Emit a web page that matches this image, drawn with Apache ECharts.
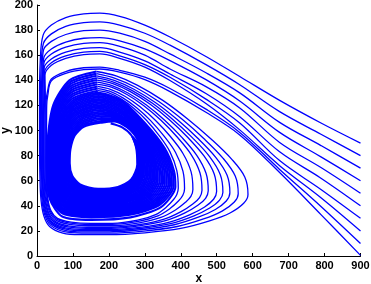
<!DOCTYPE html>
<html><head><meta charset="utf-8">
<script src="https://cdn.jsdelivr.net/npm/echarts@6/dist/echarts.min.js"></script>
<style>html,body{margin:0;padding:0;background:#fff}#c{width:371px;height:284px}</style>
</head><body><div id="c"></div>
<script>
const xTicks = [0,100,200,300,400,500,600,700,800,900];
const yTicks = [0,20,40,60,80,100,120,140,160,180,200];
const startY = [90,80,70,60,50,40,30,20,10,0];

const path90 = [[900,90],[790,106],[675,124],[564,143],[470,159],[370,174.5],[300,184],[230,191],[175,193.5],[130,193],[80,190],[40,184],[17,176],
[9,155],[7,125],[7,95],[8,65],[11,45],[19,32],[35,23.5],[72,18.2],[119,17],[200,17],[300,18.5],[400,22],[480,28],[537,34.3],[575,42],[587,49],[578,63],[542,77],[485,93],[420,109],[350,124],[280,136],[220,143.5],
[165,147],[90,140],[45,120],[29,90],[27.5,68],[36,45],[70,31.5],[150,28.8],[260,30.8],[345,39],[385,55],[381,68],[355,86],[300,106],[235,124],
[170,130],[100,124],[62,110],[48,90],[46,70],[54,52],[85,42],[160,38],[250,40],[310,47],[336,60],[333,73],[315,87],[275,102],[225,113.5],
[175,117.5],[115,113],[84,103],[72,88],[70,73],[77,58],[102,50],[165,46],[235,48],[280,54],[297,65.5],[294,79],[281,91]];

const path80 = [[900,80],[790,97],[675,115],[564,136.5],[470,152.5],[370,168],[300,177.5],[230,184],[175,186.5],[130,186],[80,183],[40,177],[18,169.5],
[11.5,150.1],[9.7,121.5],[9.7,92.9],[10.6,64.6],[13.7,45.1],[21.8,32.6],[38.1,24.4],[75.2,19.4],[123.3,18.3],[201.4,18.3],[297.2,19.9],[390.2,23.5],[463.2,29.5],[515,35.8],[549,43],[559.8,49.7],[551.5,63.7],[517.9,77.8],[464.7,93.4],[403.9,108.9],[338.8,123.1],[273.7,134.5],[217.2,141.6],
[165.5,145.3],[91,138.4],[46.7,119],[30,90],[28,68.2],[36.9,45.7],[71.5,33.9],[151,30.8],[259,32.8],[341.5,40.7],[380.1,55.5],[376.2,68.5],[351,86.1],[297.5,105.6],[234,123],
[170.5,128.8],[101.5,122.9],[64.2,109.3],[50.4,89.8],[48.4,70.3],[56.3,52.6],[86.7,42.8],[160.5,38.8],[248.5,40.8],[307,47.7],[332.1,60.6],[329.1,73.6],[311.6,87.4],[273,101.9],[224,112.8],
[175.6,116.3],[116.7,111.9],[86.3,102.2],[74.3,87.7],[72.3,73.1],[79.3,58.7],[104,50.8],[165.6,46.8],[233.9,48.8],[278,54.8],[295,66.3],[292,79.8],[279,91.6]];

const path70 = [[900,70],[790,88],[675,106.5],[564,130],[470,146],[370,161],[300,171],[230,177.5],[175,180],[130,179.5],[80,176.5],[40,171],[18,164],
[13.7,145.9],[12.1,118.5],[11.9,91.1],[12.8,64.2],[15.9,45.3],[24.2,33],[40.7,25.2],[78,20.5],[127.1,19.3],[202.6,19.3],[294.8,21.1],[381.8,24.9],[448.8,30.9],[496.2,37.1],[526.6,43.8],[536.6,50.3],[528.9,64.3],[497.3,78.6],[447.3,93.8],[390.1,108.7],[329.2,122.3],[268.3,133.1],[214.8,140],
[166,143.6],[92,136.8],[48.4,118],[32,90],[30,68.4],[38.8,46.4],[73,34.8],[152,31.6],[258,33.6],[338,41.4],[375.2,56],[371.4,69],[347,86.2],[295,105.2],[233,121.9],
[171,127.5],[103,121.8],[66.4,108.6],[52.8,89.6],[50.8,70.6],[58.6,53.2],[88.4,43.6],[161,39.6],[247,41.6],[304,48.4],[328.2,61.1],[325.2,74.2],[308.2,87.8],[271,101.8],[223,112.1],
[176.1,115],[118.3,110.8],[88.7,101.4],[76.7,87.3],[74.7,73.2],[81.7,59.3],[106,51.6],[166.1,47.7],[232.8,49.6],[276,55.6],[293,67.2],[290,80.6],[277,92.1]];

const path60 = [[900,60],[790,79],[675,98.5],[564,123.5],[470,140.5],[370,155.7],[300,165],[230,171.5],[175,174],[130,173.5],[80,170.5],[40,165],[19,158],
[15.5,142.4],[14,116],[13.8,89.6],[14.7,63.9],[17.8,45.4],[26.2,33.4],[42.9,25.8],[80.3,21.4],[130.2,20.2],[203.6,20.2],[292.8,22.1],[374.8,26],[436.8,32],[480.5,38.2],[508,44.5],[517.2,50.8],[510,64.8],[480.1,79.2],[432.8,94.1],[378.6,108.6],[321.2,121.7],[263.8,132],[212.8,138.6],
[166.5,141.9],[93,135.2],[50.1,117],[34,90],[32,68.6],[40.7,47.1],[74.5,35.7],[153,32.4],[257,34.4],[334.5,42.1],[370.3,56.5],[366.6,69.5],[343,86.3],[292.5,104.8],[232,120.9],
[171.5,126.3],[104.5,120.7],[68.6,107.9],[55.2,89.4],[53.2,70.9],[60.9,53.8],[90.1,44.4],[161.5,40.4],[245.5,42.4],[301,49.1],[324.3,61.7],[321.3,74.8],[304.8,88.2],[269,101.7],[222,111.4],
[176.7,113.8],[120,109.7],[91,100.7],[79,87],[77,73.3],[84,60],[108,52.3],[166.7,48.5],[231.7,50.3],[274,56.3],[291,68],[288,81.3],[275,92.7]];

const path50 = [[900,50],[790,70.5],[675,90.5],[564,118],[470,135],[370,149],[300,160],[230,167],[175,170],[130,169.5],[80,166.5],[40,161],[19.5,154],
[17.1,139.3],[15.8,113.8],[15.6,88.3],[16.3,63.7],[19.6,45.5],[28,33.8],[44.9,26.4],[82.4,22.2],[133,21.1],[204.5,21.1],[291,23],[368.5,27],[426,33],[466.4,39.1],[491.3,45.2],[499.7,51.3],[493,65.3],[464.6,79.7],[419.8,94.4],[368.3,108.6],[314,121.1],[259.8,131],[211,137.4],
[167,140.2],[94,133.6],[51.8,116],[36,90],[34,68.8],[42.6,47.8],[76,36.6],[154,33.2],[256,35.2],[331,42.8],[365.4,57],[361.8,70],[339,86.4],[290,104.4],[231,119.8],
[172,125],[106,119.6],[70.8,107.2],[57.6,89.2],[55.6,71.2],[63.2,54.4],[91.8,45.2],[162,41.2],[244,43.2],[298,49.8],[320.4,62.2],[317.4,75.4],[301.4,88.6],[267,101.6],[221,110.7],
[177.2,112.5],[121.7,108.6],[93.3,99.9],[81.3,86.7],[79.3,73.4],[86.3,60.7],[110,53.1],[167.2,49.3],[230.6,51.1],[272,57.1],[289,68.8],[286,82.1],[273,93.2]];

const path40 = [[900,40],[790,62],[675,83],[564,111],[470,129.5],[370,145],[300,155.5],[230,162.5],[175,166],[130,165.5],[80,162.5],[40,157],[20,150],
[19.3,135],[18.1,110.8],[17.8,86.5],[18.5,63.3],[21.8,45.6],[30.4,34.3],[47.5,27.2],[85.1,23.2],[136.7,22.1],[205.7,22.1],[288.6,24.2],[360.1,28.3],[411.6,34.3],[447.5,40.4],[469,46],[476.4,51.9],[470.3,65.9],[444,80.4],[402.4,94.7],[354.5,108.4],[304.4,120.3],[254.4,129.7],[208.6,135.8],
[167.5,138.5],[95,132],[53.5,115],[38,90],[36,69],[44.5,48.5],[77.5,37.5],[155,34],[255,36],[327.5,43.5],[360.5,57.5],[357,70.5],[335,86.5],[287.5,104],[230,118.8],
[172.5,123.8],[107.5,118.5],[73,106.5],[60,89],[58,71.5],[65.5,55],[93.5,46],[162.5,42],[242.5,44],[295,50.5],[316.5,62.8],[313.5,76],[298,89],[265,101.5],[220,110],
[177.8,111.3],[123.3,107.4],[95.7,99.1],[83.7,86.3],[81.7,73.6],[88.7,61.3],[112,53.9],[167.8,50.2],[229.4,51.9],[270,57.9],[287,69.7],[284,82.9],[271,93.8]];

const path30 = [[900,30],[790,53],[675,76],[564,106],[470,125],[370,142.4],[300,152.5],[230,159.5],[175,163],[130,162.5],[80,159.5],[40,154],[21,146.5],
[20.9,131.9],[19.9,108.5],[19.5,85.1],[20.2,63],[23.5,45.7],[32.2,34.6],[49.5,27.8],[87.2,24],[139.5,22.9],[206.6,22.9],[286.8,25.1],[353.8,29.3],[400.8,35.3],[433.4,41.4],[452.2,46.6],[459,52.3],[453.3,66.3],[428.5,81],[389.3,95],[344.1,108.3],[297.2,119.7],[250.3,128.7],[206.8,134.6],
[168,136.8],[96,130.4],[55.2,114],[40,90],[38,69.2],[46.4,49.2],[79,38.4],[156,34.8],[254,36.8],[324,44.2],[355.6,58],[352.2,71],[331,86.6],[285,103.6],[229,117.7],
[173,122.5],[109,117.4],[75.2,105.8],[62.4,88.8],[60.4,71.8],[67.8,55.6],[95.2,46.8],[163,42.8],[241,44.8],[292,51.2],[312.6,63.3],[309.6,76.6],[294.6,89.4],[263,101.4],[219,109.3],
[178.3,110],[125,106.3],[98,98.3],[86,86],[84,73.7],[91,62],[114,54.7],[168.3,51],[228.3,52.7],[268,58.7],[285,70.5],[282,83.7],[269,94.3]];

const path20 = [[900,20],[790,46.5],[675,72],[564,100.5],[470,121.5],[370,139.8],[300,150.5],[230,157.5],[175,161],[130,160.5],[80,157.5],[40,152],[22,144],
[23.2,127.4],[22.4,105.3],[22,83.2],[22.6,62.6],[26,45.8],[34.8,35.2],[52.4,28.6],[90.2,25.2],[143.5,24.1],[207.9,24.1],[284.2,26.4],[344.7,30.7],[385.2,36.7],[413,42.8],[428.1,47.5],[433.7,53],[428.7,67],[406.1,81.7],[370.5,95.4],[329.2,108.2],[286.8,118.9],[244.5,127.3],[204.2,132.8],
[168.5,135.1],[97,128.8],[56.9,113],[42,90],[40,69.4],[48.3,49.9],[80.5,39.3],[157,35.6],[253,37.6],[320.5,44.9],[350.7,58.5],[347.4,71.5],[327,86.7],[282.5,103.2],[228,116.7],
[173.5,121.3],[110.5,116.3],[77.4,105.1],[64.8,88.6],[62.8,72.1],[70.1,56.2],[96.9,47.6],[163.5,43.6],[239.5,45.6],[289,51.9],[308.7,63.9],[305.7,77.2],[291.2,89.8],[261,101.3],[218,108.6],
[178.9,108.8],[126.7,105.2],[100.3,97.6],[88.3,85.7],[86.3,73.8],[93.3,62.7],[116,55.4],[168.9,51.8],[227.2,53.4],[266,59.4],[283,71.3],[280,84.4],[267,94.9]];

const path10 = [[900,10],[790,39.5],[675,69],[564,98.5],[470,117],[370,133.5],[300,142.5],[230,148],[175,150.5],[130,150],[80,147],[40,141],[29,131],
[25.4,123.2],[24.7,102.3],[24.3,81.4],[24.8,62.3],[28.3,45.9],[37.2,35.6],[55,29.4],[92.9,26.2],[147.2,25.2],[209.1,25.2],[281.8,27.6],[336.3,32],[370.8,38],[394.1,44],[405.7,48.4],[410.5,53.6],[406,67.6],[385.5,82.5],[353,95.7],[315.4,108.1],[277.2,118.1],[239,126],[201.8,131.3],
[169,133.4],[98,127.2],[58.6,112],[44,90],[42,69.6],[50.2,50.6],[82,40.2],[158,36.4],[252,38.4],[317,45.6],[345.8,59],[342.6,72],[323,86.8],[280,102.8],[227,115.6],
[174,120],[112,115.2],[79.6,104.4],[67.2,88.4],[65.2,72.4],[72.4,56.8],[98.6,48.4],[164,44.4],[238,46.4],[286,52.6],[304.8,64.4],[301.8,77.8],[287.8,90.2],[259,101.2],[217,107.9],
[179.4,107.5],[128.3,104.1],[102.7,96.8],[90.7,85.3],[88.7,73.9],[95.7,63.3],[118,56.2],[169.4,52.7],[226.1,54.2],[264,60.2],[281,72.2],[278,85.2],[265,95.4]];

const path0 = [[900,0.5],[790,33],[675,66.5],[564,96.5],[470,114.5],[370,131],[300,140.5],[230,146.5],[175,149],[130,148.5],[80,145.5],[40,139.5],[30,128],
[27,120],[26.5,100],[26,80],[26.5,62],[30,46],[39,36],[57,30],[95,27],[150,26],[210,26],[280,28.5],[330,33],[360,39],[380,45],[389,49],[393,54],[389,68],[370,83],[340,96],[305,108],[270,117.5],[235,125],[200,130],
[169.5,131.7],[99,125.6],[60.3,111],[46,90],[44,69.8],[52.1,51.3],[83.5,41.1],[159,37.2],[251,39.2],[313.5,46.3],[340.9,59.5],[337.8,72.5],[319,86.9],[277.5,102.4],[226,114.6],
[174.5,118.8],[113.5,114.1],[81.8,103.7],[69.6,88.2],[67.6,72.7],[74.7,57.4],[100.3,49.2],[164.5,45.2],[236.5,47.2],[283,53.3],[300.9,65],[297.9,78.4],[284.4,90.6],[257,101.1],[216,107.2],
[180,106.3],[130,103],[105,96],[93,85],[91,74],[98,64],[120,57],[170,53.5],[225,55],[262,61],[279,73],[276,86],[263,96],[237,102.5],[205,105.5]];

const paths = [path90,path80,path70,path60,path50,path40,path30,path20,path10,path0];
// first 36 points of each path: approach from x=900 and first swing; the rest: tight loops of the dense ring
const FIRST_SWING = 36;

const FONT = 'Liberation Sans, Arial, sans-serif';
const chart = echarts.init(document.getElementById('c'), null, {renderer:'canvas'});
const series = [];
paths.forEach((p,i)=>{
  series.push({name:'y0='+startY[i], type:'line', data:p.slice(0, FIRST_SWING+1), showSymbol:false, smooth:0.35,
    lineStyle:{color:'#0000ff',width:1.3}, clip:true});
  series.push({name:'y0='+startY[i]+' ring', type:'line', data:p.slice(FIRST_SWING), showSymbol:false, smooth:0.25,
    lineStyle:{color:'#0000ff',width:2.1}, clip:true});
});
chart.setOption({
  animation:false,
  backgroundColor:'#fff',
  grid:{left:37,right:10.5,top:5,bottom:28,containLabel:false,outerBoundsMode:'none'},
  xAxis:{type:'value',min:xTicks[0],max:xTicks[xTicks.length-1],interval:100,
    name:'x',nameLocation:'middle',nameGap:17,nameMoveOverlap:false,
    nameTextStyle:{fontFamily:FONT,fontSize:12,fontWeight:'bold',color:'#000'},
    axisLine:{show:true,lineStyle:{color:'#000',width:1}},
    axisTick:{show:true,inside:true,length:3,lineStyle:{color:'#000'}},
    axisLabel:{fontFamily:FONT,fontSize:11,fontWeight:'bold',color:'#000',margin:4},
    splitLine:{show:false}},
  yAxis:{type:'value',min:yTicks[0],max:yTicks[yTicks.length-1],interval:20,
    name:'y',nameLocation:'middle',nameGap:25,nameRotate:90,nameMoveOverlap:false,
    nameTextStyle:{fontFamily:FONT,fontSize:12,fontWeight:'bold',color:'#000'},
    axisLine:{show:true,lineStyle:{color:'#000',width:1}},
    axisTick:{show:true,inside:true,length:3,lineStyle:{color:'#000'}},
    axisLabel:{fontFamily:FONT,fontSize:11,fontWeight:'bold',color:'#000',margin:4},
    splitLine:{show:false}},
  series: series
});
</script>
</body></html>
